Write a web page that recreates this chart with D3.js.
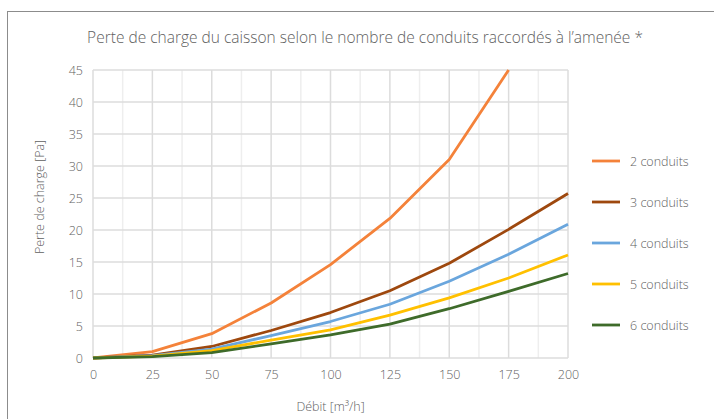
<!DOCTYPE html>
<html>
<head>
<meta charset="utf-8">
<script src="https://cdn.jsdelivr.net/npm/d3@7"></script>
<style>
  body { margin: 0; background: #fff; }
  svg { font-family: 'Open Sans', sans-serif; font-weight: 300; }
</style>
</head>
<body>
<svg width="714" height="419"></svg>
<script>
const debit = [0, 25, 50, 75, 100, 125, 150, 175, 200]
const c2 = [0, 1.0, 3.8, 8.6, 14.6, 21.8, 31.0, 45.0]
const c3 = [0, 0.45, 1.8, 4.3, 7.1, 10.5, 14.8, 20.1, 25.7]
const c4 = [0, 0.35, 1.4, 3.5, 5.7, 8.4, 12.0, 16.2, 20.9]
const c5 = [0, 0.3, 1.15, 2.8, 4.4, 6.7, 9.4, 12.5, 16.1]
const c6 = [0, 0.2, 0.85, 2.2, 3.6, 5.3, 7.7, 10.4, 13.2]
const seriesNames = ['2 conduits', '3 conduits', '4 conduits', '5 conduits', '6 conduits']
const seriesValues = [c2, c3, c4, c5, c6]
const colors = ['#F4823A', '#9E480E', '#6AA6DD', '#FFC000', '#3E6B2A']
const yTicks = [0, 5, 10, 15, 20, 25, 30, 35, 40, 45]
const xTicks = [0, 25, 50, 75, 100, 125, 150, 175, 200]

const svg = d3.select('svg')
const textColor = '#5f5f5f'
const margin = { top: 70, left: 93, right: 146, bottom: 61 }
const width = 714 - margin.left - margin.right
const height = 419 - margin.top - margin.bottom

// outer frame
svg.append('rect')
   .attr('x', 7.5).attr('y', 11.5)
   .attr('width', 740).attr('height', 440)
   .attr('fill', 'none').attr('stroke', '#8c8c8c').attr('stroke-width', 1)

svg.append('text')
   .attr('x', 365).attr('y', 43)
   .attr('text-anchor', 'middle')
   .attr('fill', textColor)
   .attr('font-size', 15.5)
   .text('Perte de charge du caisson selon le nombre de conduits raccordés à l’amenée *')

const x = d3.scaleLinear().domain([0, 200]).range([0, width])
const y = d3.scaleLinear().domain([0, 45]).range([height, 0])

const g = svg.append('g').attr('transform', `translate(${margin.left},${margin.top})`)

// minor vertical grid
g.selectAll('.minor')
 .data(d3.range(12.5, 200, 25))
 .enter().append('line')
 .attr('x1', d => x(d)).attr('x2', d => x(d))
 .attr('y1', 0).attr('y2', height)
 .attr('stroke', '#eeeeee').attr('stroke-width', 1.5)

g.selectAll('.vgrid')
 .data(xTicks)
 .enter().append('line')
 .attr('x1', d => x(d)).attr('x2', d => x(d))
 .attr('y1', 0).attr('y2', height)
 .attr('stroke', '#dcdcdc').attr('stroke-width', 1.5)

g.selectAll('.hgrid')
 .data(yTicks)
 .enter().append('line')
 .attr('x1', 0).attr('x2', width)
 .attr('y1', d => y(d)).attr('y2', d => y(d))
 .attr('stroke', '#dcdcdc').attr('stroke-width', 1.5)

const xAxis = g.append('g')
               .attr('transform', `translate(0,${height})`)
               .call(d3.axisBottom(x).tickValues(xTicks).tickSize(0).tickPadding(12))
const yAxis = g.append('g')
               .call(d3.axisLeft(y).tickValues(yTicks).tickSize(0).tickPadding(10))
for (const a of [xAxis, yAxis]) {
  a.select('.domain').remove()
  a.selectAll('text').attr('fill', textColor).attr('font-size', 12.5)
   .attr('font-family', "'Open Sans', sans-serif").attr('font-weight', 300)
}

svg.append('text')
   .attr('x', margin.left + width / 2).attr('y', 411)
   .attr('text-anchor', 'middle').attr('fill', textColor).attr('font-size', 12.5)
   .text('Débit [m³/h]')

svg.append('text')
   .attr('transform', 'translate(44,197) rotate(-90)')
   .attr('text-anchor', 'middle').attr('fill', textColor).attr('font-size', 12.5)
   .text('Perte de charge [Pa]')

const line = d3.line()
               .x((d, i) => x(debit[i]))
               .y(d => y(d))

seriesValues.forEach((vals, k) => {
  g.append('path')
   .datum(vals)
   .attr('d', line)
   .attr('fill', 'none')
   .attr('stroke', colors[k])
   .attr('stroke-width', 2.8)
   .attr('stroke-linejoin', 'round')
})

const legend = svg.append('g').attr('transform', 'translate(592,161)')
seriesNames.forEach((name, k) => {
  const row = legend.append('g').attr('transform', `translate(0,${k * 41})`)
  row.append('line')
     .attr('x1', 0).attr('x2', 28)
     .attr('stroke', colors[k]).attr('stroke-width', 2.8)
  row.append('text')
     .attr('x', 38).attr('y', 4.5)
     .attr('fill', textColor).attr('font-size', 12.5)
     .text(name)
})
</script>
</body>
</html>
